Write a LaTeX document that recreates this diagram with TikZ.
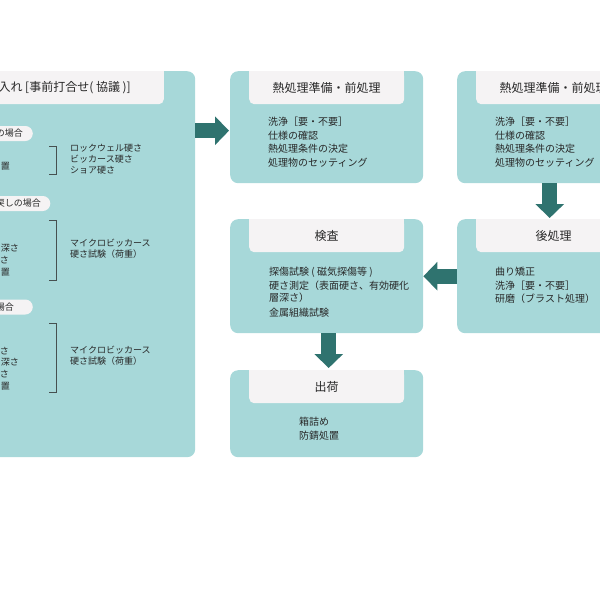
\documentclass[tikz,border=0pt]{standalone}
\usepackage{fontspec}
\setmainfont{Noto Sans CJK JP}
\usetikzlibrary{arrows.meta,calc,positioning}
\definecolor{stagebg}{RGB}{167,216,217}
\definecolor{headbg}{RGB}{245,243,244}
\definecolor{flowteal}{RGB}{47,115,111}
\definecolor{darktext}{RGB}{40,40,40}
\definecolor{bracketgray}{RGB}{70,80,80}

\begin{document}
\begin{tikzpicture}[x=1pt,y=-1pt,
  stage/.style={fill=stagebg,rounded corners=8pt,inner sep=0pt,anchor=north west},
  head/.style={fill=headbg,rounded corners=5pt,minimum width=155pt,
               minimum height=33pt,inner sep=0pt,anchor=north},
  headtext/.style={inner sep=0pt,font=\fontsize{12}{14}\selectfont,text=darktext},
  pill/.style={fill=headbg,rounded corners=7.5pt,minimum height=15pt,inner ysep=0pt,
               inner xsep=10pt,anchor=east,font=\fontsize{9}{11}\selectfont,text=darktext},
  body/.style={anchor=north west,align=left,inner sep=0pt,
               font=\fontsize{10}{13.6}\selectfont,text=darktext},
  note/.style={anchor=north west,align=left,inner sep=0pt,
               font=\fontsize{9}{11}\selectfont,text=darktext},
  bracket/.style={draw=bracketgray,line width=0.9pt},
  flow/.style={-{Triangle[length=14pt,width=28pt]},line width=15pt,draw=flowteal}]
\useasboundingbox (0,0) rectangle (600,595);
\clip (0,0) rectangle (600,595);

% stage boxes
\node[stage,minimum width=380pt,minimum height=386pt] (accept) at (-185,71) {};
\node[stage,minimum width=193pt,minimum height=112pt] (prep)  at (230,71)  {};
\node[stage,minimum width=193pt,minimum height=112pt] (prepb) at (457,71)  {};
\node[stage,minimum width=193pt,minimum height=114pt] (insp)  at (230,219) {};
\node[stage,minimum width=193pt,minimum height=114pt] (post)  at (457,219) {};
\node[stage,minimum width=193pt,minimum height=87pt]  (ship)  at (230,370) {};

% headers
\node[head,minimum width=200pt,anchor=north east] (accepth) at (164,71) {};
\node[head] (preph)  at (prep.north)  {};
\node[head] (prepbh) at (prepb.north) {};
\node[head] (insph)  at (insp.north)  {};
\node[head] (posth)  at (post.north)  {};
\node[head] (shiph)  at (ship.north)  {};
\foreach \h in {accepth,preph,prepbh,insph,posth,shiph}
  \fill[headbg] (\h.north west) rectangle (\h.east);

\node[headtext,anchor=east] (acceptt) at (131,87.5) {入れ [事前打合せ( 協議 )]};
\node[headtext] (prept)  at (preph)  {熱処理準備・前処理};
\node[headtext] (prepbt) at (prepbh) {熱処理準備・前処理};
\node[headtext] (inspt)  at (insph)  {検査};
\node[headtext] (postt)  at (posth)  {後処理};
\node[headtext] (shipt)  at (shiph)  {出荷};

% stage contents
\node[body] (prepl)  at (268,117) {洗浄［要・不要］\\仕様の確認\\熱処理条件の決定\\処理物のセッティング};
\node[body] (prepbl) at (495,117) {洗浄［要・不要］\\仕様の確認\\熱処理条件の決定\\処理物のセッティング};
\node[body] (inspl)  at (269,267) {探傷試験 ( 磁気探傷等 )\\硬さ測定（表面硬さ、有効硬化\\[-1.5pt]層深さ）\\[1.5pt]金属組織試験};
\node[body] (postl)  at (495,267) {曲り矯正\\洗浄［要・不要］\\研磨（ブラスト処理）};
\node[body] (shipl)  at (299,417) {箱詰め\\防錆処置};

% acceptance cases
\node[pill] (case1) at (33,133.5) {の場合};
\node[pill,inner xsep=9.5pt] (case2) at (50.5,203.5) {戻しの場合};
\node[pill,inner xsep=19pt] (case3) at (33,307) {場合};
\foreach \t/\x/\y [count=\i] in {置/10/166, 深さ/19/248, さ/9/260, 置/10/272,
    さ/9/351, 深さ/19/362, さ/9/374, 置/10/386}
  \node[note,anchor=east] (cut\i) at (\x,\y) {\t};
\draw[bracket] (49,146) -- (56,146) -- (56,174) -- (49,174);
\draw[bracket] (49,220) -- (56,220) -- (56,280) -- (49,280);
\draw[bracket] (49,323) -- (56,323) -- (56,392) -- (49,392);
\node[note] (meth1) at (70,144.5) {ロックウェル硬さ\\ビッカース硬さ\\ショア硬さ};
\node[note] (meth2) at (70,238.5) {マイクロビッカース\\硬さ試験（荷重）};
\node[note] (meth3) at (70,345.5) {マイクロビッカース\\硬さ試験（荷重）};

% flow
\draw[flow] ($(accept.east |- prep.west)+(0,3.5)$) -- ($(prep.west)+(-1,3.5)$);
\draw[flow] ($(prepb.south)+(-4,0)$) -- ($(post.north)+(-4,-1)$);
\draw[flow] (post.west) -- (insp.east);
\draw[flow] ($(insp.south)+(2,0)$) -- ($(ship.north)+(2,-2)$);
\end{tikzpicture}
\end{document}
